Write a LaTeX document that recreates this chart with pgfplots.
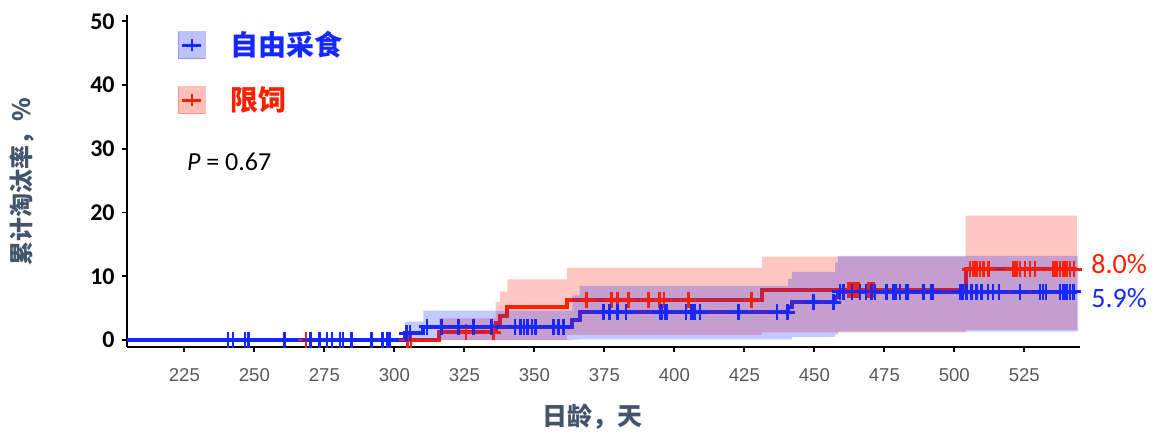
\documentclass[border=0pt]{standalone}
\usepackage{pgfplots}
\pgfplotsset{compat=1.18}
\usepgfplotslibrary{fillbetween}
\usepackage{fontspec}
\setmainfont{Liberation Sans}
\newfontfamily\cjk{Noto Sans CJK SC}
\newfontfamily\calibri{Carlito}
\definecolor{myblue}{RGB}{20,40,255}
\definecolor{myred}{RGB}{255,30,0}
\definecolor{titlecol}{HTML}{44546A}
\definecolor{tickgray}{HTML}{595959}
\begin{document}
\begin{tikzpicture}
\begin{axis}[
  at={(63.35pt,42.65pt)}, anchor=south west,
  width=476.8pt, height=165.85pt, scale only axis,
  xmin=204.4, xmax=545, ymin=-1.05, ymax=51,
  axis x line*=bottom, axis y line*=left,
  axis line style={line width=0.9pt, black},
  tick align=outside, major tick length=2.5pt,
  tick style={line width=0.9pt, black},
  xtick={225,250,...,525}, ytick={0,10,...,50},
  /pgf/number format/assume math mode=true,
  xticklabel style={font=\fontsize{9.3}{10}\selectfont, text=tickgray, yshift=-5pt},
  yticklabel style={font=\calibri\bfseries\fontsize{12}{12}\selectfont, text=black},
  clip=false,
  fill between/on layer=main,
  legend style={at={(0.0533,0.9638)}, anchor=north west, draw=none, fill=none, inner sep=0pt,
    row sep=10pt, font=\cjk\bfseries\fontsize{14}{14}\selectfont,
    /tikz/every odd column/.append style={column sep=10.5pt}},
  legend cell align=left,
]
\addlegendimage{legend image code/.code={
 \fill[myblue, opacity=0.28] (0pt,-6.75pt) rectangle (13.5pt,6.75pt);
 \draw[myblue, line width=1.5pt] (2pt,0pt) -- (11.5pt,0pt);
 \draw[myblue, line width=1pt] (6.75pt,-3pt) -- (6.75pt,3pt);
}}
\addlegendentry{\textcolor{myblue}{自由采食}}
\addlegendimage{legend image code/.code={
 \fill[myred, opacity=0.28] (0pt,-6.75pt) rectangle (13.5pt,6.75pt);
 \draw[myred, line width=1.5pt] (2pt,0pt) -- (11.5pt,0pt);
 \draw[myred, line width=1pt] (6.75pt,-3pt) -- (6.75pt,3pt);
}}
\addlegendentry{\textcolor{myred}{限饲}}

% step curves
\addplot[const plot, myred, line width=2pt, forget plot] coordinates {
(204.5,0) (316,1.2) (336.2,2.6) (337.8,3.7) (340.4,5.1) (361.6,6.3) (431.3,7.8) (504,11.1) (543.8,11.1)};
\addplot[const plot, myblue, line width=2pt, forget plot] coordinates {
(204.5,0) (303.8,1.05) (310.4,2.1) (363.6,3.2) (366.2,4.35) (440.6,5.1) (442,5.9) (457.4,6.8) (458.4,7.6) (543.8,7.6)};

% confidence bands
\addplot[draw=none, const plot, name path=rU, forget plot] coordinates {
(316,3.4) (336.2,6.0) (337.8,7.6) (340.4,9.5) (361.6,11.3) (431.3,13.1) (504,19.5) (543.8,19.5)};
\addplot[draw=none, const plot, name path=rL, forget plot] coordinates {
(316,0) (336.2,0) (337.8,0) (340.4,0) (361.6,0.8) (431.3,1.2) (504,1.6) (543.8,1.6)};
\addplot[fill=myred, fill opacity=0.25, draw=none, forget plot] fill between[of=rU and rL];

\addplot[draw=none, const plot, name path=bU, forget plot] coordinates {
(303.8,2.9) (310.4,4.6) (363.6,7.0) (366.2,8.5) (440.6,9.6) (442,10.7) (457.4,12.2) (458.4,13.2) (544.2,13.2)};
\addplot[draw=none, const plot, name path=bL, forget plot] coordinates {
(303.8,0) (310.4,0) (363.6,0.05) (366.2,0.1) (440.6,0.1) (442,0.5) (457.4,0.9) (458.4,1.3) (544.2,1.3)};
\addplot[fill=myblue, fill opacity=0.25, draw=none, forget plot] fill between[of=bU and bL];

% censor marks
\addplot[only marks, mark=+, mark size=4pt, myred, mark options={line width=1.3pt}, forget plot] coordinates {
(268.4,0) (304.6,0) (305.9,0)
(325.6,1.2) (335.4,1.2)
(368.7,6.3) (377.6,6.3) (379.6,6.3) (383.6,6.3) (390.7,6.3) (394.6,6.3) (396.3,6.3) (405,6.3) (427.6,6.3)
(462.1,7.8) (463,7.8) (463.9,7.8) (464.9,7.8) (465.7,7.8) (469.3,7.8) (470.1,7.8) (471.1,7.8)
(505.6,11.1) (506.8,11.1) (508,11.1) (509.2,11.1) (510.4,11.1) (512.1,11.1) (521.1,11.1) (522.3,11.1) (523.5,11.1) (525.2,11.1) (527,11.1) (528.8,11.1) (535.4,11.1) (536.5,11.1) (537.7,11.1) (538.9,11.1) (540.1,11.1) (541.3,11.1) (542.8,11.1)};
\addplot[only marks, mark=+, mark size=4pt, myblue, mark options={line width=1.3pt}, forget plot] coordinates {
(240.6,0) (242.4,0) (246.6,0) (247.8,0) (260.7,0) (270.1,0) (273.2,0) (275.9,0) (277.7,0) (280.6,0) (281.6,0) (284.7,0) (291.9,0) (295.8,0) (297.3,0) (298.3,0)
(304.4,1.05) (305.6,1.05)
(311.6,2.1) (316.9,2.1) (322.9,2.1) (328.2,2.1) (334.8,2.1) (343.1,2.1) (345.1,2.1) (346.3,2.1) (347.5,2.1) (349.1,2.1) (350.5,2.1) (356.8,2.1) (358.6,2.1) (360.4,2.1)
(374.6,4.35) (376.8,4.35) (379.6,4.35) (382.8,4.35) (394.9,4.35) (395.5,4.35) (396.7,4.35) (397.3,4.35) (404.2,4.35) (405.9,4.35) (406.8,4.35) (407.4,4.35) (409.2,4.35) (422.9,4.35) (436.6,4.35) (440.4,4.35)
(449.6,5.9) (456.8,5.9)
(459.2,7.6) (460.4,7.6) (463.4,7.6) (466.3,7.6) (468.5,7.6) (470.5,7.6) (471.7,7.6) (475.8,7.6) (478.2,7.6) (479.2,7.6) (480.6,7.6) (482.7,7.6) (483.5,7.6) (488.9,7.6) (491.9,7.6) (492.4,7.6) (502,7.6) (502.9,7.6) (504.3,7.6) (506.1,7.6) (507.9,7.6) (509.7,7.6) (512,7.6) (513.8,7.6) (516,7.6) (523.5,7.6) (530.6,7.6) (531.7,7.6) (532.7,7.6) (537.7,7.6) (538.9,7.6) (540.1,7.6) (541.3,7.6) (542.5,7.6)};
\end{axis}
\node[rotate=90, font=\cjk\bfseries\fontsize{12}{12}\selectfont, text=titlecol] at (11pt,125pt) {累计淘汰率，\%};
\node[font=\cjk\bfseries\fontsize{12.5}{12.5}\selectfont, text=titlecol] at (296.25pt,7.5pt) {日龄，天};
\node[anchor=west, inner sep=0pt, font=\calibri\fontsize{13}{13}\selectfont] at (93.35pt,135.15pt) {\textit{P} = 0.67};
\node[anchor=west, inner sep=0pt, font=\calibri\fontsize{14}{14}\selectfont, text=myred] at (545.5pt,84pt) {8.0\%};
\node[anchor=west, inner sep=0pt, font=\calibri\fontsize{14}{14}\selectfont, text=myblue] at (545.5pt,67pt) {5.9\%};
\path (0,0) rectangle (577.5pt,216pt);
\end{tikzpicture}
\end{document}
